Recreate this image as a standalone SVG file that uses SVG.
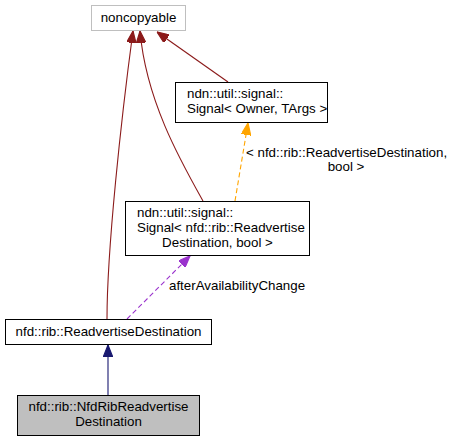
<svg xmlns="http://www.w3.org/2000/svg" width="453" height="441" viewBox="0 0 453 441">
<style>
text{font-family:"Liberation Sans",Arial,sans-serif;font-size:13.33px;fill:#000}
.box{fill:#fff;stroke:#000;stroke-width:1}
.e{fill:none;stroke-width:1.1}
.d{stroke-dasharray:5,3}
</style>
<defs>
<marker id="mr" viewBox="0 0 10 8" refX="10" refY="4" markerWidth="12" markerHeight="9.5" markerUnits="userSpaceOnUse" orient="auto"><path d="M0,0L10,4L0,8z" fill="#8b1a1a" stroke="#8b1a1a"/></marker>
<marker id="mb" viewBox="0 0 10 8" refX="10" refY="4" markerWidth="12" markerHeight="9.5" markerUnits="userSpaceOnUse" orient="auto"><path d="M0,0L10,4L0,8z" fill="#191970" stroke="#191970"/></marker>
<marker id="mo" viewBox="0 0 10 8" refX="10" refY="4" markerWidth="12" markerHeight="9.5" markerUnits="userSpaceOnUse" orient="auto"><path d="M0,0L10,4L0,8z" fill="#ffa500" stroke="#ffa500"/></marker>
<marker id="mp" viewBox="0 0 10 8" refX="10" refY="4" markerWidth="12" markerHeight="9.5" markerUnits="userSpaceOnUse" orient="auto"><path d="M0,0L10,4L0,8z" fill="#9a32cd" stroke="#9a32cd"/></marker>
</defs>
<g id="connectors">
<path class="e" stroke="#191970" d="M108,395L108,345" marker-end="url(#mb)"/>
<path class="e" stroke="#8b1a1a" d="M107,319C107,250 121,120 133,31" marker-end="url(#mr)"/>
<path class="e" stroke="#8b1a1a" d="M203,201C180,160 146,100 140,31" marker-end="url(#mr)"/>
<path class="e" stroke="#8b1a1a" d="M228,82L157,32" marker-end="url(#mr)"/>
<path class="e d" stroke="#ffa500" d="M235,201L248,123" marker-end="url(#mo)"/>
<path class="e d" stroke="#9a32cd" d="M127,319L190,256" marker-end="url(#mp)"/>
<text x="246" y="157">&lt; nfd::rib::ReadvertiseDestination,</text>
<text x="346" y="171" text-anchor="middle">bool &gt;</text>
<text x="169" y="290">afterAvailabilityChange</text>
</g>
<g id="noncopyable">
<rect x="91.5" y="5.5" width="94" height="25" fill="#fff" stroke="#bfbfbf"/>
<text x="138.5" y="22" text-anchor="middle">noncopyable</text>
</g>
<g id="signal_owner">
<rect class="box" x="175.5" y="82.5" width="152" height="40"/>
<text x="187" y="98">ndn::util::signal::</text>
<text x="187" y="113">Signal&lt; Owner, TArgs &gt;</text>
</g>
<g id="signal_readvertise">
<rect class="box" x="125.5" y="201.5" width="184" height="54"/>
<text x="137" y="217">ndn::util::signal::</text>
<text x="137" y="232">Signal&lt; nfd::rib::Readvertise</text>
<text x="217.5" y="247" text-anchor="middle">Destination, bool &gt;</text>
</g>
<g id="readvertise_destination">
<rect class="box" x="5.5" y="319.5" width="206" height="25"/>
<text x="108.5" y="336" text-anchor="middle">nfd::rib::ReadvertiseDestination</text>
</g>
<g id="nfdrib_readvertise_destination">
<rect x="17.5" y="395.5" width="182" height="40" fill="#bfbfbf" stroke="#000"/>
<text x="108.5" y="411" text-anchor="middle">nfd::rib::NfdRibReadvertise</text>
<text x="108.5" y="426" text-anchor="middle">Destination</text>
</g>
</svg>
